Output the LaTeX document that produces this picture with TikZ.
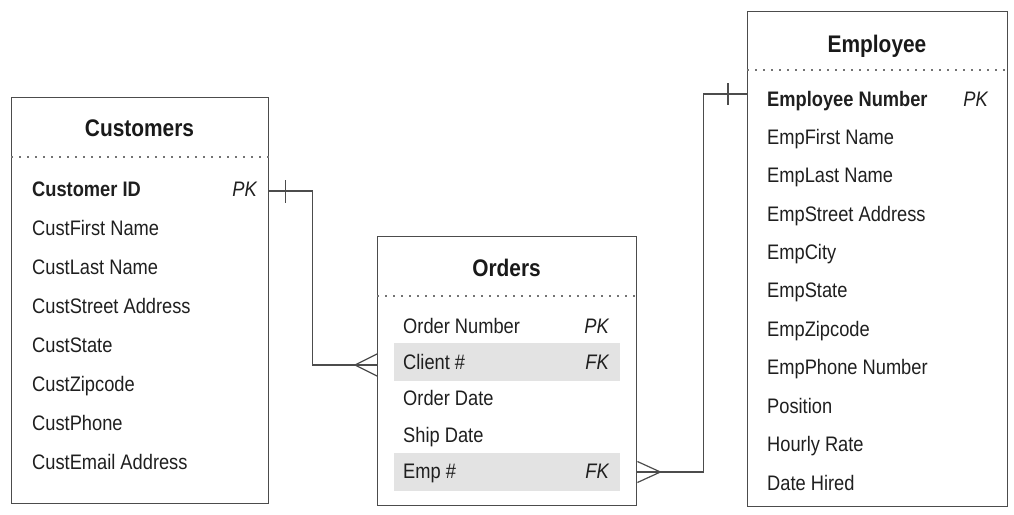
\documentclass[tikz,border=0pt]{standalone}
\usepackage{fontspec}
\setmainfont{Liberation Sans}[FakeStretch=0.87]
\usetikzlibrary{positioning}

\tikzset{
    entity/.style = {draw = black!70, line width = 1.4pt, anchor = north west, inner sep = 0pt},
    title/.style = {inner sep = 0pt, text height = 17pt, text depth = 1pt, font = \fontsize{24}{28}\selectfont\bfseries, text = black!90},
    attr/.style = {anchor = west, inner sep = 0pt, text height = 16pt, text depth = 1pt, font = \fontsize{21}{24}\selectfont, text = black!88},
    keyattr/.style = {attr, font = \fontsize{21}{24}\selectfont\bfseries},
    key/.style = {attr, anchor = east, font = \fontsize{21}{24}\selectfont\itshape},
    fkrow/.style = {fill = black!11, minimum width = 226pt, minimum height = 38pt, inner sep = 0pt},
    sep/.style = {draw = black!55, line width = 1.6pt, dash pattern = on 1.6pt off 6.4pt},
    rel/.style = {draw = black!70, line width = 1.2pt}
}

\begin{document}
\begin{tikzpicture}[x = 1pt, y = -1pt]
\useasboundingbox (0,0) rectangle (1014,514);

% tables
\node[entity, minimum width = 257pt, minimum height = 406pt] (cust) at (11,97) {};
\node[entity, minimum width = 259pt, minimum height = 269pt] (ord) at (377,236) {};
\node[entity, minimum width = 260pt, minimum height = 495pt] (emp) at (747,11) {};

% highlighted rows
\node[fkrow] (clientbg) at (507,361.5) {};
\node[fkrow] (empbg) at (507,471.5) {};

% titles
\node[title] (custtitle) at (139.5,128) {Customers};
\node[title] (ordtitle) at (506.5,268) {Orders};
\node[title] (emptitle) at (877,44) {Employee};
\draw[sep] (cust.west |- 0,157) -- (cust.east |- 0,157);
\draw[sep] (ord.west |- 0,296) -- (ord.east |- 0,296);
\draw[sep] (emp.west |- 0,70) -- (emp.east |- 0,70);

% Customers
\node[keyattr] (custid) at (32,189) {Customer ID};
\node[key] (custpk) at (257,189) {PK};
\node[attr] (custfirst) at (32,228) {CustFirst Name};
\node[attr] (custlast) at (32,267) {CustLast Name};
\node[attr] (custstreet) at (32,306) {CustStreet Address};
\node[attr] (custstate) at (32,345) {CustState};
\node[attr] (custzip) at (32,384) {CustZipcode};
\node[attr] (custphone) at (32,423) {CustPhone};
\node[attr] (custemail) at (32,462) {CustEmail Address};

% Orders
\node[attr] (ordnum) at (403,326) {Order Number};
\node[key] (ordpk) at (609,326) {PK};
\node[attr] (client) at (403,362) {Client \#};
\node[key] (clientfk) at (609,362) {FK};
\node[attr] (orddate) at (403,398) {Order Date};
\node[attr] (shipdate) at (403,435) {Ship Date};
\node[attr] (empno) at (403,471) {Emp \#};
\node[key] (empfk) at (609,471) {FK};

% Employee
\node[keyattr] (empnum) at (767,99) {Employee Number};
\node[key] (emppk) at (988,99) {PK};
\node[attr] (empfirst) at (767,137) {EmpFirst Name};
\node[attr] (emplast) at (767,175) {EmpLast Name};
\node[attr] (empstreet) at (767,214) {EmpStreet Address};
\node[attr] (empcity) at (767,252) {EmpCity};
\node[attr] (empstate) at (767,290) {EmpState};
\node[attr] (empzip) at (767,329) {EmpZipcode};
\node[attr] (empphone) at (767,367) {EmpPhone Number};
\node[attr] (position) at (767,406) {Position};
\node[attr] (rate) at (767,444) {Hourly Rate};
\node[attr] (hired) at (767,483) {Date Hired};

% relationships
\draw[rel] ([yshift = -2pt]cust.east |- custid) -- ++(43,0) |- ([yshift = -3pt]ord.west |- client);
\draw[rel] ([xshift = 16pt, yshift = -2pt]cust.east |- custid) ++(0,-11) -- ++(0,23);
\draw[rel] ([yshift = -3pt]ord.west |- client) ++(0,-11) -- ++(-22,11) -- ++(22,11);

\draw[rel] ([yshift = -1pt]ord.east |- empno) -- ++(66,0) |- ([yshift = 5pt]emp.west |- empnum);
\draw[rel] ([xshift = -19pt, yshift = 5pt]emp.west |- empnum) ++(0,-11) -- ++(0,22);
\draw[rel] ([yshift = -1pt]ord.east |- empno) ++(0,-10.5) -- ++(23,10.5) -- ++(-23,10.5);

\end{tikzpicture}
\end{document}
